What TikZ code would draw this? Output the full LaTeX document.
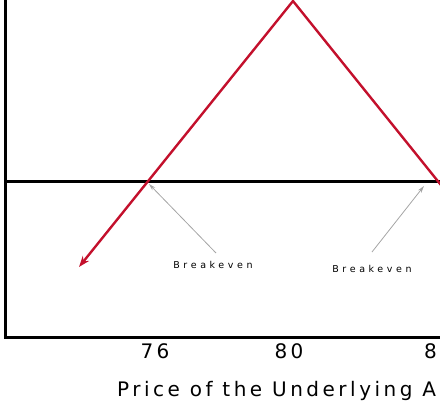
\documentclass[tikz,border=0pt]{standalone}
\usepackage{fontspec}
\usetikzlibrary{arrows.meta}
\newfontfamily\axisfont[LetterSpace=17.5]{DejaVu Sans}
\newfontfamily\notefont[LetterSpace=38]{DejaVu Sans}
\definecolor{payoffred}{RGB}{195,16,44}
\definecolor{notegray}{RGB}{165,165,165}

\begin{document}
\begin{tikzpicture}[x=1pt, y=-1pt,
        axis line/.style = {line width=3pt},
        payoff/.style = {payoffred, line width=2.4pt, -{Stealth[length=11pt, width=8pt]}},
        pointer/.style = {notegray, line width=0.8pt, -{Stealth[length=7pt, width=4pt]}},
        note/.style = {font=\notefont\fontsize{9.5}{11}\selectfont, anchor=base, inner sep=0pt},
        axis label/.style = {font=\axisfont\fontsize{20}{24}\selectfont, anchor=base, inner sep=0pt}]
        \useasboundingbox (0,0) rectangle (440,400);
        % axes and zero line
        \coordinate (top) at (5,-2);
        \coordinate (origin) at (5,337);
        \coordinate (xend) at (444,337);
        \coordinate (zero left) at (4,181);
        \coordinate (zero right) at (444,181);
        \draw[axis line] (top) -- (origin) -- (xend);
        \draw[axis line] (zero left) -- (zero right);
        % payoff
        \coordinate (tail) at (445,190);
        \coordinate (peak) at (293,1);
        \coordinate (tip) at (79,267);
        \draw[payoff] (tail) -- (peak) -- (tip);
        % breakeven notes
        \node[note] (note left) at (213,268) {Breakeven};
        \node[note] (note right) at (372,272) {Breakeven};
        \coordinate (from left) at (216,253);
        \coordinate (be left) at (149,184);
        \coordinate (from right) at (372,252);
        \coordinate (be right) at (424,186);
        \draw[pointer] (from left) -- (be left);
        \draw[pointer] (from right) -- (be right);
        % tick labels and axis title
        \node[axis label] (p76) at (155,358) {76};
        \node[axis label] (p80) at (289,358) {80};
        \node[axis label, anchor=base west] (p84) at (424,358) {8};
        \node[axis label, anchor=base west] (xtitle) at (117,396) {Price of the Underlying A};
    \end{tikzpicture}
\end{document}
